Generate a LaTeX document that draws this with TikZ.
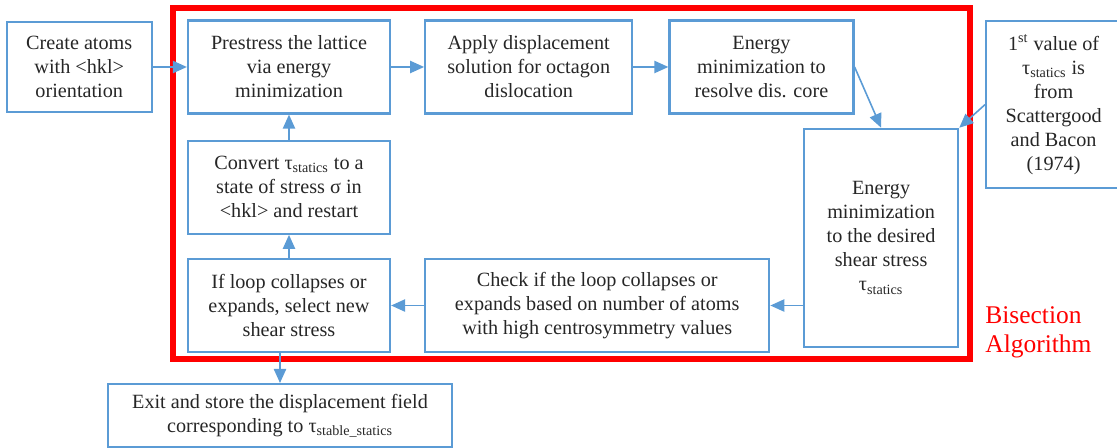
\documentclass[tikz,border=0pt]{standalone}
\usepackage{fontspec}
\setmainfont{Liberation Serif}
\usetikzlibrary{positioning, arrows.meta}
\definecolor{flowblue}{RGB}{91,155,213}

\begin{document}
\begin{tikzpicture}[
        x=0.02cm, y=-0.02cm,
        node distance=0.5cm and 0.68cm,
        >={Triangle[length=8pt, width=7pt]},
        every node/.style={font=\fontsize{11.5}{13.7}\selectfont},
        box/.style={draw=flowblue, line width=1.3pt, rectangle, minimum height=1.86cm, minimum width=4.04cm, align=center, text=black!85, inner sep=2pt},
        link/.style={->, draw=flowblue, line width=0.9pt}
    ]
    \useasboundingbox (0,0) rectangle (1117,448);

    \node[box] (prestress) at (289,67) {Prestress the lattice \\ via energy \\ minimization};
    \node[box, minimum width=2.9cm, minimum height=1.8cm, left=0.68cm of prestress] (create) {Create atoms \\ with <hkl> \\ orientation};
    \node[box, minimum width=4.14cm, right=0.66cm of prestress] (apply) {Apply displacement \\ solution for octagon \\ dislocation};
    \node[box, minimum width=3.68cm, right=0.7cm of apply] (resolve) {Energy \\ minimization to \\ resolve dis. core};

    \node[box, below=0.5cm of prestress] (convert) {Convert τ\textsubscript{statics} to a \\ state of stress σ in \\ <hkl> and restart};
    \node[box, below=0.46cm of convert] (select) {If loop collapses or \\ expands, select new \\ shear stress};
    \node[box, minimum width=6.88cm, right=0.66cm of select] (check) {Check if the loop collapses or \\ expands based on number of atoms \\ with high centrosymmetry values};

    \node[box, minimum width=3.08cm, minimum height=4.36cm, anchor=south west] (target) at (803,348) {Energy \\ minimization \\ to the desired \\ shear stress \\ τ\textsubscript{statics}};
    \node[box, minimum width=2.7cm, minimum height=3.34cm, anchor=north west] (initial) at (985,20) {1\textsuperscript{st} value of \\ τ\textsubscript{statics} is \\ from \\ Scattergood \\ and Bacon \\ (1974)};

    \node[box, minimum width=6.88cm, minimum height=1.26cm, anchor=north] (store) at (280,383) {Exit and store the displacement field \\ corresponding to τ\textsubscript{stable\_statics}};

    % bisection loop
    \draw[red, line width=3.4pt] (173,8) rectangle (970,359);
    \node[text=red, font=\fontsize{14.5}{16.5}\selectfont, align=left, anchor=west, inner sep=0pt] (bisect) at (985,332) {Bisection \\ Algorithm};

    \draw[link] (create) -- (prestress);
    \draw[link] (prestress) -- (apply);
    \draw[link] (apply) -- (resolve);
    \draw[link] (resolve.east) -- (target.north);
    \draw[link] (initial.west) -- (target.north east);
    \draw[link] (target.west |- check) -- (check);
    \draw[link] (check) -- (select);
    \draw[link] (select) -- (convert);
    \draw[link] (convert) -- (prestress);
    \draw[link] (store.north |- select.south) -- (store.north);

\end{tikzpicture}
\end{document}
